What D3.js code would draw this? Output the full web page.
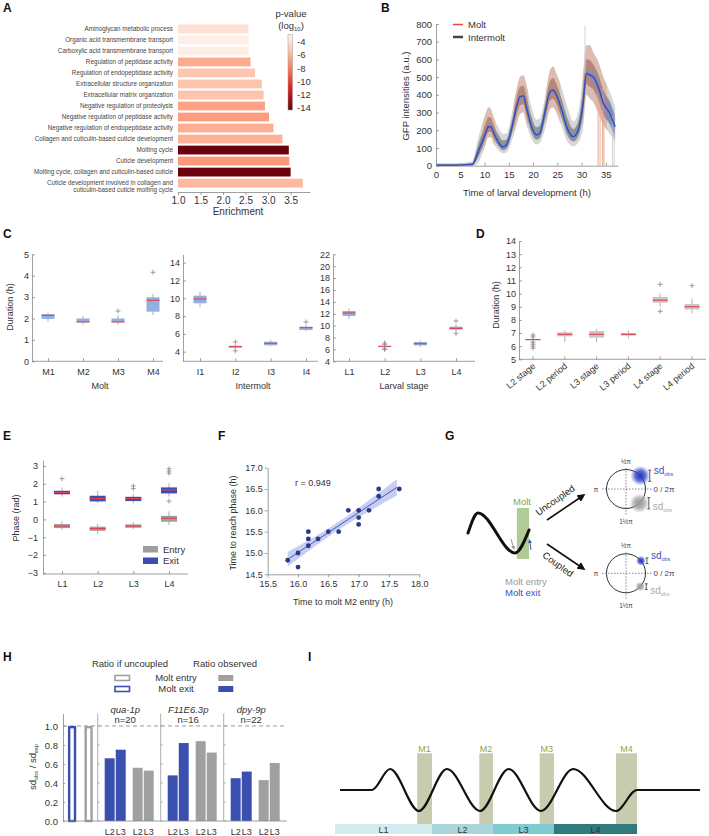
<!DOCTYPE html>
<html><head><meta charset="utf-8">
<script src="https://cdn.jsdelivr.net/npm/d3@7"></script>
<style>
body{margin:0;background:#fff}
svg{display:block}
svg text{font-family:"Liberation Sans",Arial,sans-serif}
</style></head><body>
<svg id="fig" width="709" height="836"></svg>
<script>
// ================= DATA =================
// A: GO enrichment
const goTerms = ["Aminoglycan metabolic process","Organic acid transmembrane transport","Carboxylic acid transmembrane transport","Regulation of peptidase activity","Regulation of endopeptidase activity","Extracellular structure organization","Extracellular matrix organization","Negative regulation of proteolysis","Negative regulation of peptidase activity","Negative regulation of endopeptidase activity","Collagen and cuticulin-based cuticle development","Molting cycle","Cuticle development","Molting cycle, collagen and cuticulin-based cuticle","Cuticle development involved in collagen and\ncuticulin-based cuticle molting cycle"];
const goEnrichment = [2.56,2.57,2.57,2.61,2.71,2.86,2.90,2.93,3.02,3.12,3.32,3.46,3.47,3.50,3.77];
const goLogP = [-4.2,-3.4,-3.4,-6.3,-5.3,-5.4,-5.4,-6.6,-6.8,-6.2,-6.0,-14.2,-7.0,-14.2,-5.8];
const goXTicks = [1.0,1.5,2.0,2.5,3.0,3.5];
const cbTicks = [-4,-6,-8,-10,-12,-14];

// B: GFP traces
const tB    = [0,2,4,6,7.5,8.3,9,9.7,10.3,10.8,11.3,11.8,12.8,13.8,14.5,15.5,16.6,17.3,18,18.6,19.7,20.7,21.4,22.4,23.5,24.1,24.8,25.9,27.2,28.3,29.3,30.3,31,31.7,32.4,33.4,34.5,35.8,36.9];
const meanB = [3,3,3,5,7,50,100,145,190,220,222,192,135,107,117,200,333,390,393,333,220,173,183,296,418,427,400,314,201,164,201,352,521,512,502,446,352,296,220];
const highB = [15,15,15,18,25,110,190,250,300,330,320,280,220,180,180,280,430,500,510,460,330,260,270,380,540,560,520,440,320,250,300,520,680,680,640,590,500,420,330];
const lowB  = [0,0,0,0,0,5,30,80,130,160,160,130,90,70,75,130,230,290,300,240,150,120,130,200,320,330,300,220,130,110,130,220,400,380,360,300,230,180,130];
const ciB   = [3,3,3,3,4,12,14,15,15,15,15,15,15,15,15,15,15,15,15,15,15,15,15,15,15,15,15,15,15,15,15,18,25,32,40,50,62,70,70];
const moltWindowsB = [[9.6,12.2],[16.0,19.0],[22.6,25.6],[30.2,35.2]];
const spikeTimesB = [30.7,33.4,33.8,34.3,34.6,36.4,36.7];
const spikeLowB   = [520,0,0,0,0,0,0];
const spikeHighB  = [790,420,380,450,400,280,300];
const spikeMoltB  = [false,true,true,true,true,false,false];
const bXTicks = [0,5,10,15,20,25,30,35];
const bYTicks = [0,100,200,300,400,500,600,700,800];

// C: durations
const moltCats = ["M1","M2","M3","M4"];
const moltStats = [[1.85,1.98,2.15,2.2,2.27],[1.72,1.82,1.84,2.0,2.12],[1.72,1.82,1.84,2.0,2.16],[2.16,2.32,2.85,2.99,3.14]];
const moltOut = [[],[],[2.35],[4.16]];
const interCats = ["I1","I2","I3","I4"];
const interStats = [[8.99,9.44,9.92,10.29,10.74],[4.3,4.45,4.56,4.67,4.85],[4.6,4.72,4.94,5.12,5.35],[6.3,6.44,6.7,6.81,7.0]];
const interOut = [[],[5.1,4.1],[],[7.34]];
const larvalCats = ["L1","L2","L3","L4"];
const larvalStats = [[11.1,11.62,12.13,12.46,12.9],[6.3,6.45,6.52,6.58,6.75],[6.4,6.69,6.96,7.25,7.5],[9.0,9.32,9.55,9.82,10.2]];
const larvalOut = [[],[5.97,6.19,6.85,7.08],[],[8.7,10.78]];

// D
const dCats = ["L2 stage","L2 period","L3 stage","L3 period","L4 stage","L4 period"];
const dStats = [[6.3,6.45,6.5,6.55,6.7],[6.3,6.75,6.9,7.05,7.2],[6.3,6.65,6.9,7.15,7.3],[6.6,6.8,6.9,7.0,7.2],[9.0,9.3,9.5,9.75,10.0],[8.5,8.8,9.0,9.2,9.6]];
const dOut = [[5.85,6.0,6.15,6.3,6.7,6.85],[],[],[],[8.65,10.7],[10.6]];

// E
const eCats = ["L1","L2","L3","L4"];
const entryStats = [[-0.6,-0.49,-0.38,-0.26,-0.1],[-0.83,-0.64,-0.52,-0.41,-0.25],[-0.55,-0.47,-0.38,-0.28,-0.15],[-0.32,-0.13,0.07,0.2,0.45]];
const entryOut = [[],[],[],[]];
const exitStats = [[1.28,1.41,1.52,1.61,1.78],[0.92,1.01,1.17,1.33,1.61],[0.9,1.03,1.17,1.27,1.43],[1.28,1.46,1.66,1.8,2.05]];
const exitOut = [[2.29],[],[1.73,1.88],[1.03,2.6,2.72,2.85]];

// F
const fX = [15.83,16.0,16.0,16.17,16.17,16.17,16.33,16.5,16.67,16.83,17.0,17.0,17.0,17.17,17.33,17.33,17.67];
const fY = [14.83,15.0,14.67,15.5,15.33,15.17,15.33,15.5,15.5,16.0,16.0,15.83,15.67,16.0,16.5,16.33,16.5];
const fXTicks = [15.5,16.0,16.5,17.0,17.5,18.0];
const fYTicks = [14.5,15.0,15.5,16.0,16.5,17.0];

// G (schematic): wave in half-period units, molt window, phases (deg), spreads
const gWaveP = [-0.27,0,1,1.38];
const gWaveV = [0,1,-1,0.15];
const gMolt = [1.05,1.38];
const gExitPhase = [43,40];
const gEntryPhase = [-47,-43];
const gSpread = [7,3.5];

// H
const hPromoters = ["qua-1p","F11E6.3p","dpy-9p"];
const hN = [20,16,22];
const hStages = ["L2","L3"];
const hExit = [[0.66,0.75],[0.48,0.82],[0.45,0.52]];
const hEntry = [[0.56,0.53],[0.84,0.72],[0.43,0.61]];
const hUncoupled = [1.0,1.0];
const hYTicks = [0,0.2,0.4,0.6,0.8,1.0];

// I (schematic)
const stageNames = ["L1","L2","L3","L4"];
const stageBounds = [0,11.56,18.83,26.1,36];
const moltNames = ["M1","M2","M3","M4"];
const moltStartI = [9.8,17.2,24.4,33.5];
const moltEndI = [11.56,18.83,26.1,36];
const waveT = [0.6,4.4,6.56,10,13.35,17.3,20.7,24.55,28.4,33.5,36,43.5];
const waveV = [0,0,1,-1,1,-1,1,-1,1,-1,0,0];

// ================= DRAWING =================
const FONT = '"Liberation Sans", Arial, sans-serif';
const svg = d3.select("#fig");
const defs = svg.append("defs");
const RED = "#e5404a", BLUE = "#3a4fae", GRAYBOX = "#9e9e9e";

function txt(g, x, y, s, o = {}) {
  const t = g.append("text").attr("x", x).attr("y", y).text(s)
    .attr("font-size", o.fs || 9).attr("fill", o.fill || "#333")
    .attr("text-anchor", o.anchor || "start");
  if (o.weight) t.attr("font-weight", o.weight);
  if (o.style) t.attr("font-style", o.style);
  if (o.rot != null) t.attr("transform", `rotate(${o.rot},${x},${y})`);
  return t;
}
function styleAxis(g, fs) {
  g.attr("font-family", FONT).attr("font-size", fs);
  g.selectAll(".domain").attr("stroke", "#888").attr("stroke-width", 0.8);
  g.selectAll(".tick line").attr("stroke", "#888").attr("stroke-width", 0.8);
  g.selectAll(".tick text").attr("fill", "#333");
}
function plus(g, x, y, s = 2.5, c = "#888") {
  g.append("path").attr("d", `M${x - s},${y}H${x + s}M${x},${y - s}V${y + s}`).attr("stroke", c).attr("stroke-width", 0.8);
}
function boxes(g, x, y, cats, stats, outs, fill, bw) {
  cats.forEach((c, i) => {
    const s = stats[i], cx = x(c);
    g.append("line").attr("x1", cx).attr("x2", cx).attr("y1", y(s[0])).attr("y2", y(s[4]))
      .attr("stroke", "#9a9a9a").attr("stroke-width", 0.8);
    g.append("rect").attr("x", cx - bw / 2).attr("y", y(s[3])).attr("width", bw)
      .attr("height", Math.max(1, y(s[1]) - y(s[3]))).attr("fill", fill);
    g.append("line").attr("x1", cx - bw / 2).attr("x2", cx + bw / 2).attr("y1", y(s[2])).attr("y2", y(s[2]))
      .attr("stroke", RED).attr("stroke-width", 1.1);
    (outs[i] || []).forEach(o => plus(g, cx, y(o)));
  });
}
function letter(t, x, y) { txt(svg, x, y, t, {fs: 12, weight: "bold", fill: "#111"}); }

// ---------- A ----------
const gA = svg.append("g");
const xA = d3.scaleLinear().domain([1, 3.93]).range([178, 310]);
const yA = d3.scaleBand().domain(goTerms).range([24.5, 187.5]).paddingInner(0.2);
const colA = d3.scaleSequential(d3.interpolateReds).domain([-2.9, -14.3]);
gA.selectAll("rect.bar").data(goTerms).join("rect").attr("class", "bar")
  .attr("x", xA(1)).attr("y", d => yA(d)).attr("height", yA.bandwidth())
  .attr("width", (d, i) => xA(goEnrichment[i]) - xA(1))
  .attr("fill", (d, i) => colA(goLogP[i]));
goTerms.forEach(d => {
  const lines = d.split("\n");
  const cy = yA(d) + yA.bandwidth() / 2;
  lines.forEach((l, j) => txt(gA, 173, cy + 2.2 + j * 7, l, {fs: 6.3, anchor: "end", fill: "#444"}));
});
const axA = gA.append("g").attr("transform", "translate(0,192)")
  .call(d3.axisBottom(xA).tickValues(goXTicks).tickFormat(d3.format(".1f")).tickSize(3).tickSizeOuter(0).tickPadding(2));
styleAxis(axA, 10);
txt(gA, 238, 215, "Enrichment", {fs: 10, anchor: "middle"});
// colorbar
const lgA = defs.append("linearGradient").attr("id", "cbA").attr("x1", 0).attr("x2", 0).attr("y1", 0).attr("y2", 1);
d3.range(0, 1.0001, 0.1).forEach(t => lgA.append("stop").attr("offset", t).attr("stop-color", colA(-2.9 - t * 11.4)));
const yCb = d3.scaleLinear().domain([-2.9, -14.3]).range([34.3, 110]);
gA.append("rect").attr("x", 288).attr("y", yCb(-2.9)).attr("width", 4.5).attr("height", yCb(-14.3) - yCb(-2.9))
  .attr("fill", "url(#cbA)").attr("stroke", "#999").attr("stroke-width", 0.5);
cbTicks.forEach(v => txt(gA, 297, yCb(v) + 3.4, String(v), {fs: 9.5}));
txt(gA, 291, 16.5, "p-value", {fs: 9.5, anchor: "middle"});
const lg10 = txt(gA, 291, 28.5, "(log", {fs: 9.5, anchor: "middle"});
lg10.append("tspan").attr("font-size", 6).attr("dy", 2).text("10");
lg10.append("tspan").attr("dy", -2).text(")");

// ---------- B ----------
const gB = svg.append("g");
const xB = d3.scaleLinear().domain([0, 37.5]).range([436, 618]);
const yB = d3.scaleLinear().domain([0, 800]).range([165.7, 24]);
const bData = tB.map((t, i) => ({t, m: meanB[i], hi: highB[i], lo: lowB[i], ci: ciB[i]}));
const clipM = defs.append("clipPath").attr("id", "clipMolt");
moltWindowsB.forEach(w => clipM.append("rect").attr("x", xB(w[0])).attr("width", xB(w[1]) - xB(w[0])).attr("y", 0).attr("height", 200));
const areaOuter = d3.area().x(d => xB(d.t)).y0(d => yB(d.lo)).y1(d => yB(d.hi)).curve(d3.curveMonotoneX);
const areaInner = d3.area().x(d => xB(d.t)).y0(d => yB((d.lo + d.m) / 2)).y1(d => yB((d.hi + d.m) / 2)).curve(d3.curveMonotoneX);
const areaCI = d3.area().x(d => xB(d.t)).y0(d => yB(Math.max(0, d.m - d.ci))).y1(d => yB(d.m + d.ci)).curve(d3.curveMonotoneX);
gB.append("path").attr("d", areaOuter(bData)).attr("fill", "#bdbdbd").attr("opacity", 0.6);
gB.append("path").attr("d", areaInner(bData)).attr("fill", "#5a5a5a").attr("opacity", 0.55);
gB.append("path").attr("d", areaOuter(bData)).attr("fill", "#e09070").attr("opacity", 0.38).attr("clip-path", "url(#clipMolt)");
gB.append("path").attr("d", areaInner(bData)).attr("fill", "#c87050").attr("opacity", 0.28).attr("clip-path", "url(#clipMolt)");
spikeTimesB.forEach((t, i) => gB.append("line").attr("x1", xB(t)).attr("x2", xB(t)).attr("y1", yB(spikeLowB[i])).attr("y2", yB(spikeHighB[i]))
  .attr("stroke", spikeMoltB[i] ? "#e0a58c" : "#cfcfcf").attr("stroke-width", 0.9));
gB.append("path").attr("d", areaCI(bData)).attr("fill", "#7486dc").attr("opacity", 0.4);
gB.append("path").attr("d", d3.line().x(d => xB(d.t)).y(d => yB(d.m)).curve(d3.curveMonotoneX)(bData))
  .attr("fill", "none").attr("stroke", "#2f4fc4").attr("stroke-width", 1.5);
const axBx = gB.append("g").attr("transform", "translate(0,165.7)")
  .call(d3.axisBottom(xB).tickValues(bXTicks).tickSize(-3).tickSizeOuter(0).tickPadding(6));
styleAxis(axBx, 9.5);
const axBy = gB.append("g").attr("transform", "translate(436,0)")
  .call(d3.axisLeft(yB).tickValues(bYTicks).tickSize(-3).tickSizeOuter(0).tickPadding(4));
styleAxis(axBy, 9.5);
txt(gB, 527, 196, "Time of larval development (h)", {fs: 9.5, anchor: "middle"});
txt(gB, 409, 96, "GFP intensities (a.u.)", {fs: 9.5, anchor: "middle", rot: -90});
gB.append("line").attr("x1", 453).attr("x2", 463).attr("y1", 24.5).attr("y2", 24.5).attr("stroke", "#e84545").attr("stroke-width", 1.5);
gB.append("line").attr("x1", 453).attr("x2", 463).attr("y1", 37).attr("y2", 37).attr("stroke", "#444").attr("stroke-width", 2.5);
txt(gB, 468, 28, "Molt", {fs: 9.5});
txt(gB, 468, 40.5, "Intermolt", {fs: 9.5});

// ---------- C ----------
const gC = svg.append("g");
const cPanels = [
  {cats: moltCats, stats: moltStats, outs: moltOut, x0: 32, x1: 163, p0: 48, p1: 153, dom: [0, 5], ticks: d3.range(0, 6, 1), title: "Molt", tx: 100},
  {cats: interCats, stats: interStats, outs: interOut, x0: 183, x1: 318, p0: 200, p1: 306, dom: [2.92, 14.94], ticks: d3.range(4, 15, 2), title: "Intermolt", tx: 253},
  {cats: larvalCats, stats: larvalStats, outs: larvalOut, x0: 333, x1: 475, p0: 349, p1: 456, dom: [4, 22], ticks: d3.range(4, 23, 2), title: "Larval stage", tx: 404}
];
cPanels.forEach(p => {
  const x = d3.scalePoint().domain(p.cats).range([p.p0, p.p1]);
  const y = d3.scaleLinear().domain(p.dom).range([361.3, 254.3]);
  boxes(gC, x, y, p.cats, p.stats, p.outs, "#8fb0e0", 13);
  const ay = gC.append("g").attr("transform", `translate(${p.x0},0)`)
    .call(d3.axisLeft(y).tickValues(p.ticks).tickFormat(d3.format("d")).tickSize(-3).tickSizeOuter(0).tickPadding(3));
  styleAxis(ay, 9);
  const ax = gC.append("g").attr("transform", "translate(0,361.3)")
    .call(d3.axisBottom(x).tickSize(-3).tickSizeOuter(0).tickPadding(7));
  styleAxis(ax, 9);
  ax.select(".domain").remove();
  gC.append("line").attr("x1", p.x0).attr("x2", p.x1).attr("y1", 361.3).attr("y2", 361.3).attr("stroke", "#888").attr("stroke-width", 0.8);
  txt(gC, p.tx, 388.5, p.title, {fs: 9, anchor: "middle"});
});
txt(gC, 13, 307, "Duration (h)", {fs: 9, anchor: "middle", rot: -90});

// ---------- D ----------
const gD = svg.append("g");
const xD = d3.scalePoint().domain(dCats).range([533, 692]);
const yD = d3.scaleLinear().domain([5, 14]).range([359.3, 241]);
boxes(gD, xD, yD, dCats, dStats, dOut, "#c6c6c6", 15);
const aDy = gD.append("g").attr("transform", "translate(519,0)")
  .call(d3.axisLeft(yD).tickValues(d3.range(5, 15, 1)).tickFormat(d3.format("d")).tickSize(-3).tickSizeOuter(0).tickPadding(3));
styleAxis(aDy, 9);
gD.append("line").attr("x1", 519).attr("x2", 706).attr("y1", 359.3).attr("y2", 359.3).attr("stroke", "#888").attr("stroke-width", 0.8);
dCats.forEach(c => {
  gD.append("line").attr("x1", xD(c)).attr("x2", xD(c)).attr("y1", 359.3).attr("y2", 356.3).attr("stroke", "#888").attr("stroke-width", 0.8);
  txt(gD, xD(c) + 3, 367, c, {fs: 9, anchor: "end", rot: -40});
});
txt(gD, 499, 305, "Duration (h)", {fs: 9, anchor: "middle", rot: -90});

// ---------- E ----------
const gE = svg.append("g");
const xE = d3.scalePoint().domain(eCats).range([62, 169]);
const yE = d3.scaleLinear().domain([-3.07, 3.34]).range([574, 460]);
boxes(gE, xE, yE, eCats, entryStats, entryOut, GRAYBOX, 16);
boxes(gE, xE, yE, eCats, exitStats, exitOut, "#3c4fb0", 16);
const aEy = gE.append("g").attr("transform", "translate(43,0)")
  .call(d3.axisLeft(yE).tickValues(d3.range(-3, 4, 1)).tickFormat(d3.format("d")).tickSize(-3).tickSizeOuter(0).tickPadding(5));
styleAxis(aEy, 9);
const aEx = gE.append("g").attr("transform", "translate(0,574)")
  .call(d3.axisBottom(xE).tickSize(-3).tickSizeOuter(0).tickPadding(7));
styleAxis(aEx, 9);
aEx.select(".domain").remove();
gE.append("line").attr("x1", 43).attr("x2", 188).attr("y1", 574).attr("y2", 574).attr("stroke", "#888").attr("stroke-width", 0.8);
txt(gE, 19, 518, "Phase (rad)", {fs: 9, anchor: "middle", rot: -90});
gE.append("rect").attr("x", 143).attr("y", 546).attr("width", 15).attr("height", 6.5).attr("fill", GRAYBOX);
gE.append("rect").attr("x", 143).attr("y", 557.5).attr("width", 15).attr("height", 6.5).attr("fill", "#3c4fb0");
txt(gE, 163, 552.5, "Entry", {fs: 9.5});
txt(gE, 163, 564, "Exit", {fs: 9.5});

// ---------- F ----------
const gF = svg.append("g");
const xF = d3.scaleLinear().domain([15.5, 18.0]).range([267.7, 419.3]);
const yF = d3.scaleLinear().domain([14.5, 17.0]).range([574.3, 467.7]);
const n = fX.length, mx = d3.mean(fX), my = d3.mean(fY);
const sxx = d3.sum(fX, v => (v - mx) ** 2), sxy = d3.sum(fX.map((v, i) => (v - mx) * (fY[i] - my)));
const slope = sxy / sxx, icpt = my - slope * mx;
const sres = Math.sqrt(d3.sum(fX.map((v, i) => (fY[i] - (icpt + slope * v)) ** 2)) / (n - 2));
const xs = d3.range(d3.min(fX), d3.max(fX) + 0.001, 0.05);
const fitD = xs.map(v => {const se = 2.13 * sres * Math.sqrt(1 / n + (v - mx) ** 2 / sxx); const f = icpt + slope * v; return {x: v, f, lo: f - se, hi: f + se};});
gF.append("path").attr("d", d3.area().x(d => xF(d.x)).y0(d => yF(d.lo)).y1(d => yF(d.hi))(fitD)).attr("fill", "#9aa6e3").attr("opacity", 0.55);
gF.append("path").attr("d", d3.line().x(d => xF(d.x)).y(d => yF(d.f))(fitD)).attr("fill", "none").attr("stroke", "#3a55c0").attr("stroke-width", 1);
gF.selectAll("circle").data(fX).join("circle").attr("cx", d => xF(d)).attr("cy", (d, i) => yF(fY[i])).attr("r", 2.4).attr("fill", "#2c3a85");
const aFx = gF.append("g").attr("transform", "translate(0,574.3)")
  .call(d3.axisBottom(xF).tickValues(fXTicks).tickFormat(d3.format(".1f")).tickSize(3).tickSizeOuter(0).tickPadding(3));
styleAxis(aFx, 9);
const aFy = gF.append("g").attr("transform", "translate(267.7,0)")
  .call(d3.axisLeft(yF).tickValues(fYTicks).tickFormat(d3.format(".1f")).tickSize(3).tickSizeOuter(0).tickPadding(2));
styleAxis(aFy, 9);
txt(gF, 295, 486, "r = 0.949", {fs: 9});
txt(gF, 343, 605, "Time to molt M2 entry (h)", {fs: 9, anchor: "middle"});
txt(gF, 236, 523, "Time to reach phase (h)", {fs: 9, anchor: "middle", rot: -90});

// ---------- G ----------
const gG = svg.append("g");
const xW = d3.scaleLinear().domain([0, 1]).range([478, 515]);
const yW = d3.scaleLinear().domain([-1, 1]).range([553, 513]);
gG.append("rect").attr("x", xW(gMolt[0])).attr("width", xW(gMolt[1]) - xW(gMolt[0])).attr("y", 508).attr("height", 51).attr("fill", "#a3c283").attr("opacity", 0.85);
gG.append("path").attr("d", d3.line().x(d => xW(d[0])).y(d => yW(d[1])).curve(d3.curveMonotoneX)(gWaveP.map((p, i) => [p, gWaveV[i]])))
  .attr("fill", "none").attr("stroke", "#111").attr("stroke-width", 3).attr("stroke-linecap", "round");
function mk(id, c, s) {
  defs.append("marker").attr("id", id).attr("viewBox", "0 0 10 10").attr("refX", 8).attr("refY", 5)
    .attr("markerWidth", s).attr("markerHeight", s).attr("orient", "auto")
    .append("path").attr("d", "M0,0L10,5L0,10z").attr("fill", c);
}
mk("arK", "#111", 5); mk("arG", "#999", 4); mk("arB", "#3a50c0", 4);
gG.append("line").attr("x1", 547).attr("y1", 520).attr("x2", 584).attr("y2", 495).attr("stroke", "#111").attr("stroke-width", 1.6).attr("marker-end", "url(#arK)");
gG.append("line").attr("x1", 547).attr("y1", 544).attr("x2", 584).attr("y2", 569).attr("stroke", "#111").attr("stroke-width", 1.6).attr("marker-end", "url(#arK)");
gG.append("line").attr("x1", 511).attr("y1", 539).attr("x2", 514).attr("y2", 549).attr("stroke", "#999").attr("stroke-width", 1).attr("marker-end", "url(#arG)");
gG.append("line").attr("x1", 531).attr("y1", 550).attr("x2", 529.5).attr("y2", 540).attr("stroke", "#3a50c0").attr("stroke-width", 1).attr("marker-end", "url(#arB)");
txt(gG, 522, 505, "Molt", {fs: 9.5, anchor: "middle", fill: "#7ea552"});
txt(gG, 505, 584.5, "Molt entry", {fs: 9.5, fill: "#9a9a9a"});
txt(gG, 505, 595.5, "Molt exit", {fs: 9.5, fill: "#3a50c0"});
txt(gG, 557, 503, "Uncoupled", {fs: 9.5, anchor: "middle", rot: -35, fill: "#222"});
txt(gG, 556, 567, "Coupled", {fs: 9.5, anchor: "middle", rot: 36, fill: "#222"});
// blob gradients
[["blobB", "#2338c2"], ["blobG", "#9a9a9a"]].forEach(([id, c]) => {
  const rg = defs.append("radialGradient").attr("id", id);
  rg.append("stop").attr("offset", 0).attr("stop-color", c).attr("stop-opacity", 1);
  rg.append("stop").attr("offset", 0.5).attr("stop-color", c).attr("stop-opacity", 0.75);
  rg.append("stop").attr("offset", 1).attr("stop-color", c).attr("stop-opacity", 0);
});
const circCY = [489, 573.3], R = 19.5, CX = 626;
circCY.forEach((cy, k) => {
  gG.append("circle").attr("cx", CX).attr("cy", cy).attr("r", R).attr("fill", "none").attr("stroke", "#333").attr("stroke-width", 1);
  gG.append("line").attr("x1", CX - 24).attr("x2", CX + 26).attr("y1", cy).attr("y2", cy).attr("stroke", "#555").attr("stroke-width", 0.7).attr("stroke-dasharray", "1.5,1.5");
  gG.append("line").attr("x1", CX).attr("x2", CX).attr("y1", cy - 21).attr("y2", cy + 26).attr("stroke", "#555").attr("stroke-width", 0.7).attr("stroke-dasharray", "1.5,1.5");
  txt(gG, CX, cy - 25.5, "½π", {fs: 6.5, anchor: "middle", fill: "#444"});
  txt(gG, CX, cy + 35, "1½π", {fs: 6.5, anchor: "middle", fill: "#444"});
  txt(gG, 596, cy + 2.5, "π", {fs: 7, anchor: "middle", fill: "#444"});
  txt(gG, 664, cy + 3, "0 / 2π", {fs: 8, anchor: "middle", fill: "#444"});
  const sp = gSpread[k];
  [[gExitPhase[k], "blobB", "#3a50c0", -2], [gEntryPhase[k], "blobG", "#aaa", 7]].forEach(([ang, gid, col, dy]) => {
    const a = ang * Math.PI / 180, bx = CX + R * Math.cos(a), by = cy - R * Math.sin(a);
    gG.append("circle").attr("cx", bx).attr("cy", by).attr("r", sp * 1.4).attr("fill", `url(#${gid})`);
    const ix = bx + sp + 2.5, h = sp * 0.8;
    gG.append("path").attr("d", `M${ix},${by - h}V${by + h}M${ix - 1.5},${by - h}H${ix + 1.5}M${ix - 1.5},${by + h}H${ix + 1.5}`)
      .attr("stroke", "#333").attr("stroke-width", 0.8).attr("fill", "none");
    const t = txt(gG, ix + 4, by + dy, "sd", {fs: 10, fill: col});
    t.append("tspan").attr("font-size", 5.5).attr("dy", 2).text("obs");
  });
});

// ---------- H ----------
const gH = svg.append("g");
const yH = d3.scaleLinear().domain([0, 1.13]).range([821, 713.6]);
const xGrp = d3.scaleBand().domain(hPromoters).range([97.7, 286.7]);
const xPair = d3.scaleBand().domain(["exit", "entry"]).range([0, xGrp.bandwidth()]).paddingInner(0.25).paddingOuter(0.25);
const xStage = d3.scaleBand().domain(hStages).range([0, xPair.bandwidth()]).paddingInner(0.1);
const xUnc = d3.scaleBand().domain(["exit", "entry"]).range([63, 97.7]).paddingInner(0.5).paddingOuter(0.3);
gH.append("line").attr("x1", 63).attr("x2", 286.7).attr("y1", yH(1)).attr("y2", yH(1)).attr("stroke", "#999").attr("stroke-width", 1).attr("stroke-dasharray", "4,3");
hPromoters.forEach(p => {
  const gx = xGrp(p);
  gH.append("line").attr("x1", gx).attr("x2", gx).attr("y1", yH(1.13)).attr("y2", yH(0)).attr("stroke", "#999").attr("stroke-width", 0.8);
  hYTicks.forEach(v => gH.append("line").attr("x1", gx).attr("x2", gx + 2).attr("y1", yH(v)).attr("y2", yH(v)).attr("stroke", "#999").attr("stroke-width", 0.8));
});
hPromoters.forEach((p, gi) => {
  const gx = xGrp(p);
  [["exit", hExit[gi], BLUE], ["entry", hEntry[gi], "#a0a0a0"]].forEach(([k, vals, col]) => {
    hStages.forEach((s, si) => {
      const x = gx + xPair(k) + xStage(s);
      gH.append("rect").attr("x", x).attr("width", xStage.bandwidth()).attr("y", yH(vals[si])).attr("height", yH(0) - yH(vals[si])).attr("fill", col);
      txt(gH, x + xStage.bandwidth() / 2, 834.5, s, {fs: 9, anchor: "middle"});
    });
  });
  txt(gH, gx + 27.5, 712.5, p, {fs: 9.5, anchor: "middle", style: "italic"});
  txt(gH, gx + 27.5, 722.5, "n=" + hN[gi], {fs: 9.5, anchor: "middle"});
});
[["exit", BLUE], ["entry", "#a0a0a0"]].forEach(([k, col], i) => {
  gH.append("rect").attr("x", xUnc(k) + 1.2).attr("width", xUnc.bandwidth() - 2.4).attr("y", yH(hUncoupled[i]) + 1.2)
    .attr("height", yH(0) - yH(hUncoupled[i]) - 1.2).attr("fill", "#fff").attr("stroke", col).attr("stroke-width", 2.4);
});
const aHy = gH.append("g").attr("transform", "translate(63,0)")
  .call(d3.axisLeft(yH).tickValues(hYTicks).tickFormat(d3.format(".1f")).tickSize(-2).tickSizeOuter(0).tickPadding(5));
styleAxis(aHy, 9.5);
gH.append("line").attr("x1", 63).attr("x2", 286.7).attr("y1", yH(0)).attr("y2", yH(0)).attr("stroke", "#888").attr("stroke-width", 0.8);
const hy = txt(gH, 36, 767, "sd", {fs: 9.5, anchor: "middle", rot: -90});
hy.append("tspan").attr("font-size", 5.5).attr("dy", 2).text("obs");
hy.append("tspan").attr("dy", -2).text(" / sd");
hy.append("tspan").attr("font-size", 5.5).attr("dy", 2).text("exp");
txt(gH, 130, 667, "Ratio if uncoupled", {fs: 9.5, anchor: "middle"});
txt(gH, 225, 667, "Ratio observed", {fs: 9.5, anchor: "middle"});
txt(gH, 176, 681, "Molt entry", {fs: 9.5, anchor: "middle"});
txt(gH, 176, 692, "Molt exit", {fs: 9.5, anchor: "middle"});
gH.append("rect").attr("x", 115).attr("y", 675.5).attr("width", 14.5).attr("height", 5).attr("fill", "#fff").attr("stroke", "#a0a0a0").attr("stroke-width", 1.6);
gH.append("rect").attr("x", 115).attr("y", 686.5).attr("width", 14.5).attr("height", 5).attr("fill", "#fff").attr("stroke", BLUE).attr("stroke-width", 1.6);
gH.append("rect").attr("x", 218.3).attr("y", 675).attr("width", 15).attr("height", 6).attr("fill", "#a0a0a0");
gH.append("rect").attr("x", 218.3).attr("y", 686).attr("width", 15).attr("height", 6).attr("fill", BLUE);

// ---------- I ----------
const gI = svg.append("g");
const xI = d3.scaleLinear().domain([0, 36]).range([335, 637]);
const yI = d3.scaleLinear().domain([-1, 1]).range([811, 769]);
const stageFill = ["#d5ecef", "#a9d6db", "#7fcbd1", "#2f7b7e"];
stageNames.forEach((s, i) => {
  gI.append("rect").attr("x", xI(stageBounds[i])).attr("width", xI(stageBounds[i + 1]) - xI(stageBounds[i])).attr("y", 824).attr("height", 10).attr("fill", stageFill[i]);
  txt(gI, (xI(stageBounds[i]) + xI(stageBounds[i + 1])) / 2, 832.5, s, {fs: 9, anchor: "middle", fill: "#333"});
});
moltNames.forEach((m, i) => {
  gI.append("rect").attr("x", xI(moltStartI[i])).attr("width", xI(moltEndI[i]) - xI(moltStartI[i])).attr("y", 753.3).attr("height", 824 - 753.3).attr("fill", "#c9cbaf");
  txt(gI, (xI(moltStartI[i]) + xI(moltEndI[i])) / 2, 751.5, m, {fs: 9, anchor: "middle", fill: "#8aa35a"});
});
gI.append("path").attr("d", d3.line().x(d => xI(d[0])).y(d => yI(d[1])).curve(d3.curveMonotoneX)(waveT.map((t, i) => [t, waveV[i]])))
  .attr("fill", "none").attr("stroke", "#111").attr("stroke-width", 2.2);

// ---------- letters ----------
letter("A", 3, 11.5); letter("B", 381, 11.5); letter("C", 3, 238); letter("D", 476, 238);
letter("E", 3, 440); letter("F", 218, 440); letter("G", 445, 440); letter("H", 3, 661); letter("I", 308, 661);
</script>
</body></html>
